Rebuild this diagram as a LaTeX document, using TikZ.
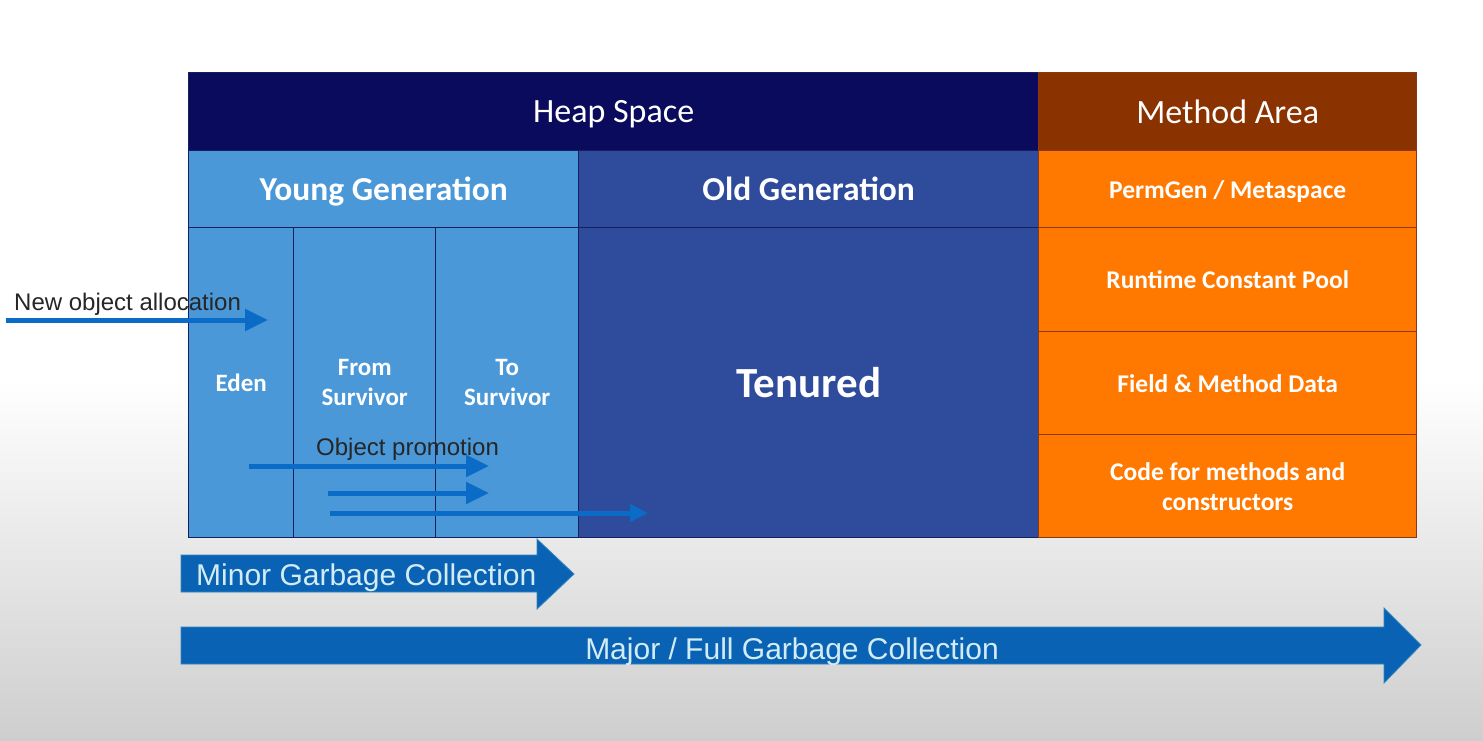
\documentclass[tikz,border=0pt]{standalone}
\usepackage{fontspec}
\usepackage{xcolor}
\usepackage{tikz}
\usetikzlibrary{arrows.meta}
\setmainfont{Carlito}
\newfontfamily\arialfont{Liberation Sans}

\definecolor{heapc}{HTML}{0B0B5E}
\definecolor{methc}{HTML}{8A3300}
\definecolor{youngc}{HTML}{4A98D8}
\definecolor{oldc}{HTML}{2E4B9C}
\definecolor{orangec}{HTML}{FF7800}
\definecolor{bluelinec}{HTML}{16205E}
\definecolor{brownlinec}{HTML}{8A3A12}
\definecolor{allocc}{HTML}{0A6CC6}
\definecolor{gcblue}{HTML}{0A62B4}
\definecolor{gctext}{HTML}{D2ECF4}
\definecolor{bggray}{HTML}{CECECE}

\begin{document}
\begin{tikzpicture}[x=1pt, y=-1pt,
                    cell/.style={anchor=north west, inner sep=0pt, align=center,
                                 text=white, line width=1.4pt},
                    oneline/.style={text depth=0pt},
                    bluecell/.style={cell, draw=bluelinec},
                    orangecell/.style={cell, draw=brownlinec, fill=orangec,
                                       minimum width=378pt, font=\bfseries\fontsize{25.5}{30}\selectfont},
                    flowarrow/.style={draw=allocc, line width=5pt,
                                      -{Triangle[length=23pt, width=21pt]}},
                    flowlabel/.style={anchor=base west, inner sep=0pt, text=black!85,
                                      font=\arialfont\fontsize{24}{28}\selectfont},
                    gcarrow/.style={fill=gcblue, draw=cyan!40!gcblue, line width=0.8pt},
                    gclabel/.style={inner sep=0pt, text=gctext,
                                    font=\arialfont\fontsize{30}{34}\selectfont}]
  \useasboundingbox (0,0) rectangle (1483,740);
  % background
  \fill[white] (0,0) rectangle (1483,740);
  \shade[top color=white, bottom color=bggray] (0,380) rectangle (1483,740);

  % heap space
  \node[bluecell, oneline, fill=heapc, minimum width=850pt, minimum height=78pt,
        font=\fontsize{34}{38}\selectfont] (heap) at (188,72) {Heap Space};
  \node[bluecell, oneline, fill=youngc, minimum width=390pt, minimum height=77pt,
        font=\bfseries\fontsize{33.5}{36}\selectfont] (young) at (188,150) {Young Generation};
  \node[bluecell, oneline, fill=oldc, minimum width=460pt, minimum height=77pt,
        font=\bfseries\fontsize{33.5}{36}\selectfont] (old) at (578,150) {Old Generation};
  \node[bluecell, oneline, fill=youngc, minimum width=105pt, minimum height=310pt,
        font=\bfseries\fontsize{25}{30}\selectfont] (eden) at (188,227) {Eden};
  \node[bluecell, fill=youngc, minimum width=142pt, minimum height=310pt,
        font=\bfseries\fontsize{25}{30}\selectfont] (from) at (293,227) {From\\Survivor};
  \node[bluecell, fill=youngc, minimum width=143pt, minimum height=310pt,
        font=\bfseries\fontsize{25}{30}\selectfont] (to) at (435,227) {To\\Survivor};
  \node[bluecell, oneline, fill=oldc, minimum width=460pt, minimum height=310pt,
        font=\bfseries\fontsize{43}{46}\selectfont] (tenured) at (578,227) {Tenured};

  % method area
  \node[cell, oneline, draw=brownlinec, fill=methc, minimum width=378pt, minimum height=78pt,
        font=\fontsize{34}{38}\selectfont] (method) at (1038,72) {Method Area};
  \node[orangecell, oneline, minimum height=77pt] (perm) at (1038,150) {PermGen / Metaspace};
  \node[orangecell, oneline, minimum height=104pt] (pool) at (1038,227) {Runtime Constant Pool};
  \node[orangecell, oneline, minimum height=103pt] (field) at (1038,331) {Field \& Method Data};
  \node[orangecell, minimum height=103pt] (code) at (1038,434) {Code for methods and\\constructors};

  % allocation and promotion
  \coordinate (allocA) at (6,320);
  \coordinate (allocB) at (268,320);
  \coordinate (promA) at (249,466);
  \coordinate (promB) at (489,466);
  \coordinate (promC) at (328,493);
  \coordinate (promD) at (489,493);
  \coordinate (promE) at (330,513);
  \coordinate (promF) at (648,513);
  \node[flowlabel] (alloclabel) at (14,310) {New object allocation};
  \node[flowlabel] (promlabel) at (316,455) {Object promotion};
  \draw[flowarrow] (allocA) -- (allocB);
  \draw[flowarrow] (promA) -- (promB);
  \draw[flowarrow] (promC) -- (promD);
  \draw[flowarrow, -{Triangle[length=18pt, width=17pt]}] (promE) -- (promF);

  % garbage collection
  \fill[gcarrow] (181,555) -- (537,555) -- (537,539) -- (574,574)
    -- (537,609) -- (537,592) -- (181,592) -- cycle;
  \node[gclabel, anchor=base west] (minor) at (196,585) {Minor Garbage Collection};
  \fill[gcarrow] (181,627) -- (1384,627) -- (1384,608) -- (1421,645)
    -- (1384,683) -- (1384,664) -- (181,664) -- cycle;
  \node[gclabel, anchor=base] (major) at (792,659) {Major / Full Garbage Collection};
\end{tikzpicture}
\end{document}
